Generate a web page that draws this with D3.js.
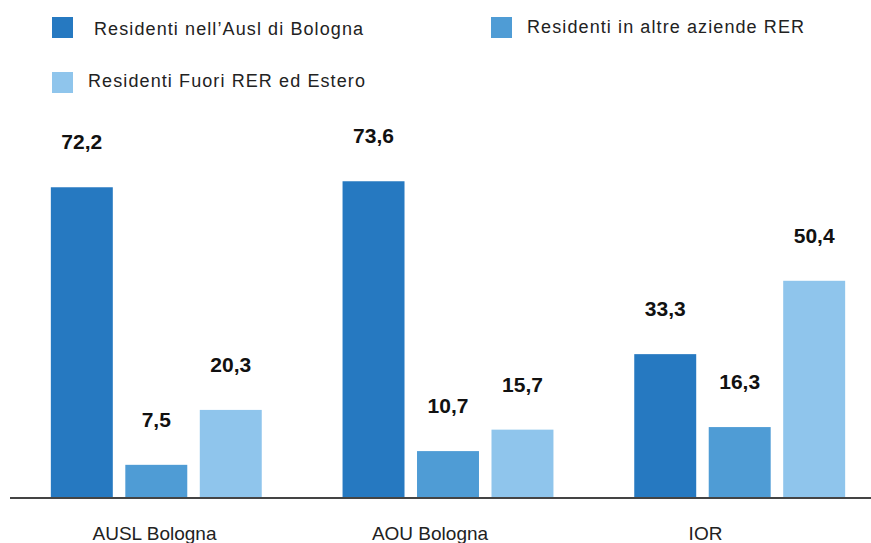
<!DOCTYPE html>
<html>
<head>
<meta charset="utf-8">
<script src="https://cdn.jsdelivr.net/npm/d3@7"></script>
<style>
  body { margin: 0; background: #fff; }
  text { font-family: "Liberation Sans", Arial, sans-serif; }
</style>
</head>
<body>
<svg id="bar_chart"></svg>
<script>
var categories = ["AUSL Bologna", "AOU Bologna", "IOR"];
var seriesNames = ["Residenti nell\u2019Ausl di Bologna", "Residenti in altre aziende RER", "Residenti Fuori RER ed Estero"];
var auslValues = [72.2, 7.5, 20.3];
var aouValues = [73.6, 10.7, 15.7];
var iorValues = [33.3, 16.3, 50.4];
var colors = ["#2679c1", "#4f9cd5", "#8fc5ec"];

var width = 871;
var height = 543;
var baseline = 497;

var rows = [auslValues, aouValues, iorValues];

var svg = d3.select("#bar_chart")
    .attr("width", width)
    .attr("height", height);

var x0 = d3.scaleBand()
    .domain(categories)
    .range([10, 886])
    .paddingInner(0.277)
    .paddingOuter(0.14);

var x1 = d3.scaleBand()
    .domain(d3.range(seriesNames.length))
    .range([0, x0.bandwidth()])
    .paddingInner(0.168);

// category labels sit a bit left of their groups in the original
var xLabel = d3.scalePoint()
    .domain(categories)
    .range([154, 705]);

var yScale = d3.scaleLinear()
    .domain([0, 100])
    .range([baseline, baseline - 429]);

// bars
var groups = svg.append("g")
    .selectAll("g")
    .data(categories)
    .enter()
    .append("g")
    .attr("transform", function (d) { return "translate(" + x0(d) + ",0)"; });

groups.selectAll("rect")
    .data(function (d, i) { return rows[i].map(function (v, j) { return {s: j, v: v}; }); })
    .enter()
    .append("rect")
    .attr("x", function (d) { return x1(d.s); })
    .attr("y", function (d) { return yScale(d.v); })
    .attr("width", x1.bandwidth())
    .attr("height", function (d) { return baseline - yScale(d.v); })
    .attr("fill", function (d) { return colors[d.s]; });

groups.selectAll("text.val")
    .data(function (d, i) { return rows[i].map(function (v, j) { return {s: j, v: v}; }); })
    .enter()
    .append("text")
    .attr("class", "val")
    .attr("x", function (d) { return x1(d.s) + x1.bandwidth() / 2; })
    .attr("y", function (d) { return yScale(d.v) - 38; })
    .attr("text-anchor", "middle")
    .attr("font-size", "21px")
    .attr("font-weight", "bold")
    .attr("fill", "#111")
    .text(function (d) { return d3.format(".1f")(d.v).replace(".", ","); });

// axis line + category labels
svg.append("line")
    .attr("x1", 10)
    .attr("x2", width)
    .attr("y1", yScale(0) + 1)
    .attr("y2", yScale(0) + 1)
    .attr("stroke", "#444")
    .attr("stroke-width", 2);

var xAxis = d3.axisBottom(xLabel).tickSize(0).tickPadding(0);
var axisG = svg.append("g")
    .attr("transform", "translate(0," + baseline + ")")
    .call(xAxis);
axisG.select(".domain").remove();
axisG.selectAll("text")
    .attr("dy", null)
    .attr("y", 43)
    .attr("font-size", "19px")
    .attr("font-family", "Liberation Sans, Arial, sans-serif")
    .attr("fill", "#222");

// legend
var legendPos = [
    {x: 52, y: 17, tx: 94, ty: 35},
    {x: 491, y: 17, tx: 527, ty: 33},
    {x: 52, y: 72, tx: 88, ty: 87}
];
var legend = svg.append("g")
    .selectAll("g")
    .data(seriesNames)
    .enter()
    .append("g");
legend.append("rect")
    .attr("x", function (d, i) { return legendPos[i].x; })
    .attr("y", function (d, i) { return legendPos[i].y; })
    .attr("width", 21)
    .attr("height", 21)
    .attr("fill", function (d, i) { return colors[i]; });
legend.append("text")
    .attr("x", function (d, i) { return legendPos[i].tx; })
    .attr("y", function (d, i) { return legendPos[i].ty; })
    .attr("font-size", "18px")
    .attr("letter-spacing", "1.1px")
    .attr("fill", "#222")
    .text(function (d) { return d; });
</script>
</body>
</html>
